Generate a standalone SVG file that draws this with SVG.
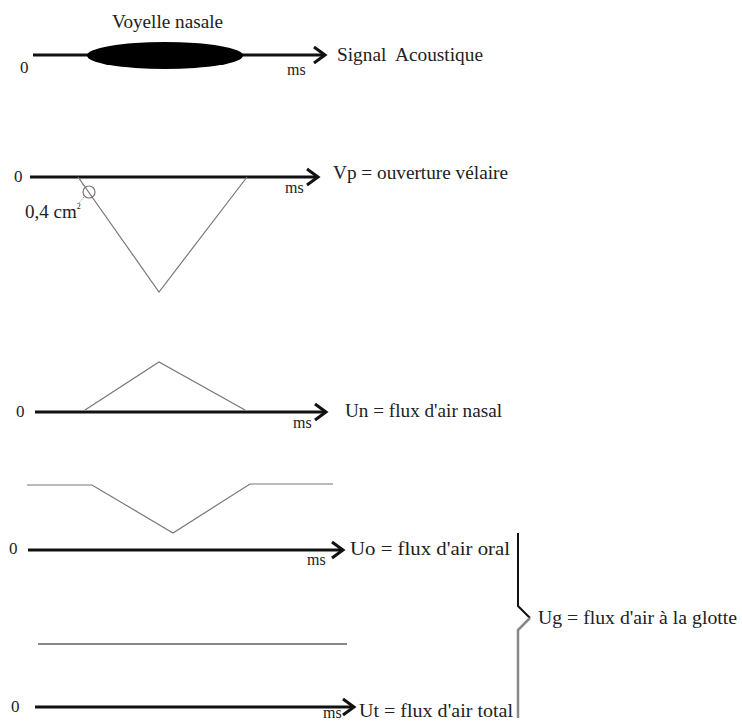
<svg xmlns="http://www.w3.org/2000/svg" width="742" height="722" viewBox="0 0 742 722">
<defs>
<style>
text{font-family:"Liberation Serif","Times New Roman","DejaVu Serif",serif;fill:#222;}
.lbl{font-size:19px;}
.zero{font-size:17px;}
.ms{font-size:16px;}
.axis{stroke:#111;stroke-width:3;fill:none;marker-end:url(#arr);}
.curve{stroke:#777;stroke-width:1.2;fill:none;}
</style>
<marker id="arr" markerUnits="userSpaceOnUse" markerWidth="20" markerHeight="22" viewBox="-14 -11 18 22" refX="0" refY="0" orient="auto" overflow="visible">
<path d="M-11,-8 L0,0 L-11,8" fill="none" stroke="#111" stroke-width="3"/>
</marker>
</defs>
<rect width="742" height="722" fill="#fff"/>

<g id="connectors">
<line class="axis" x1="33" y1="55" x2="325" y2="55"/>
<line class="axis" x1="30" y1="177" x2="318" y2="177"/>
<line class="axis" x1="35" y1="412" x2="326" y2="412"/>
<line class="axis" x1="28" y1="550" x2="343" y2="550"/>
<line class="axis" x1="35" y1="707" x2="354" y2="707"/>
</g>

<g id="signal-acoustique">
<ellipse cx="165" cy="55.5" rx="78" ry="13.5" fill="#000"/>
<text class="lbl" x="112" y="28" textLength="111" lengthAdjust="spacingAndGlyphs">Voyelle nasale</text>
<text class="zero" x="20" y="73">0</text>
<text class="ms" x="287" y="75">ms</text>
<text class="lbl" x="337" y="61" textLength="146" lengthAdjust="spacingAndGlyphs" xml:space="preserve">Signal  Acoustique</text>
</g>

<g id="ouverture-velaire">
<polyline class="curve" points="78,177 159,292 247,177"/>
<circle cx="89" cy="192" r="6" fill="none" stroke="#777" stroke-width="1.2"/>
<line x1="80" y1="179" x2="84" y2="187" stroke="#888" stroke-width="1" stroke-dasharray="1.5,1.5"/>
<line x1="84" y1="197" x2="78" y2="204" stroke="#888" stroke-width="1" stroke-dasharray="1.5,1.5"/>
<text class="zero" x="14" y="182">0</text>
<text class="lbl" x="25" y="218">0,4 cm<tspan font-size="8" dy="-9">2</tspan></text>
<text class="ms" x="285" y="193">ms</text>
<text class="lbl" x="333" y="179" textLength="175" lengthAdjust="spacingAndGlyphs">Vp = ouverture vélaire</text>
</g>

<g id="flux-nasal">
<polyline class="curve" points="85,410 159,362 245,410"/>
<text class="zero" x="16" y="417">0</text>
<text class="ms" x="293" y="428">ms</text>
<text class="lbl" x="345" y="417" textLength="157" lengthAdjust="spacingAndGlyphs">Un = flux d'air nasal</text>
</g>

<g id="flux-oral">
<polyline class="curve" points="27,485 92,485 173,533 250,484 333,484"/>
<text class="zero" x="9" y="554">0</text>
<text class="ms" x="307" y="565">ms</text>
<text class="lbl" x="350" y="555" textLength="160" lengthAdjust="spacingAndGlyphs">Uo = flux d'air oral</text>
</g>

<g id="flux-total">
<line x1="38" y1="644" x2="347" y2="644" stroke="#888" stroke-width="2"/>
<text class="zero" x="11" y="712">0</text>
<text class="ms" x="323" y="718" font-size="10">ms</text>
<text class="lbl" x="359" y="717" textLength="154" lengthAdjust="spacingAndGlyphs">Ut = flux d'air total</text>
</g>

<g id="flux-glotte">
<polyline points="518,533 518,606 530,618" fill="none" stroke="#111" stroke-width="2"/>
<polyline points="530,618 518,630 518,718" fill="none" stroke="#888" stroke-width="2.5"/>
<text class="lbl" x="538" y="624" textLength="199" lengthAdjust="spacingAndGlyphs">Ug = flux d'air à la glotte</text>
</g>
</svg>
